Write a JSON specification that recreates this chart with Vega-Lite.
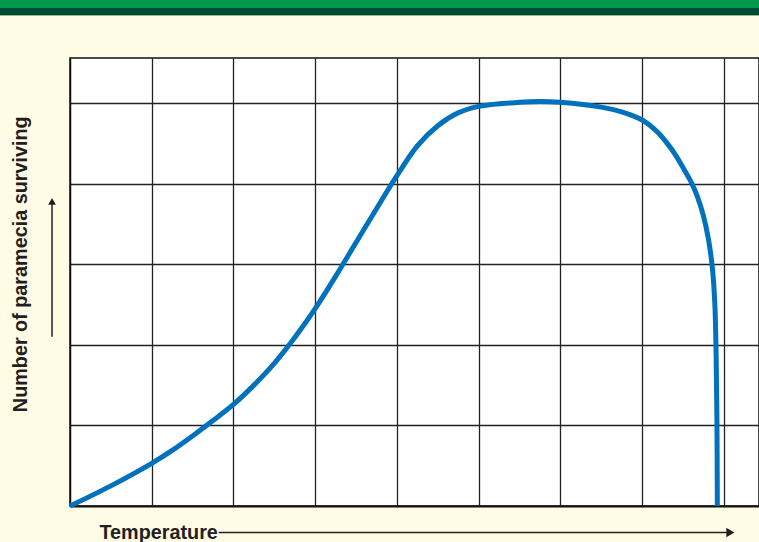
{
  "$schema": "https://vega.github.io/schema/vega-lite/v6.json",
  "width": 689,
  "height": 448,
  "autosize": "none",
  "padding": {"left": 70, "top": 58, "right": 0, "bottom": 36},
  "background": "#fffce6",
  "config": {"view": {"fill": "#ffffff", "stroke": "#111111", "strokeWidth": 1.5}},
  "layer": [
    {
      "data": {"values": [{}]},
      "mark": {"type": "rect", "color": "#00984a"},
      "encoding": {
        "x": {"datum": -0.9, "type": "quantitative", "scale": {"domain": [0, 8.43], "nice": false, "zero": false}},
        "x2": {"datum": 8.6},
        "y": {"datum": 6.32, "type": "quantitative", "scale": {"domain": [0, 5.56], "nice": false, "zero": false}},
        "y2": {"datum": 6.18}
      }
    },
    {
      "data": {"values": [{}]},
      "mark": {"type": "rect", "color": "#004b35"},
      "encoding": {
        "x": {"datum": -0.9, "type": "quantitative"},
        "x2": {"datum": 8.6},
        "y": {"datum": 6.18, "type": "quantitative"},
        "y2": {"datum": 6.095}
      }
    },
    {
      "data": {"values": [{}]},
      "mark": {"type": "rule", "color": "#8db596", "strokeWidth": 1},
      "encoding": {
        "x": {"datum": -0.9, "type": "quantitative"},
        "x2": {"datum": 8.6},
        "y": {"datum": 6.087, "type": "quantitative"}
      }
    },
    {
      "data": {
        "values": [
          {"i": 0, "t": 0, "n": 0},
          {"i": 1, "t": 0.5, "n": 0.25},
          {"i": 2, "t": 1.0, "n": 0.53},
          {"i": 3, "t": 1.25, "n": 0.69},
          {"i": 4, "t": 1.5, "n": 0.87},
          {"i": 5, "t": 1.75, "n": 1.06},
          {"i": 6, "t": 2.0, "n": 1.26},
          {"i": 7, "t": 2.25, "n": 1.5},
          {"i": 8, "t": 2.5, "n": 1.77},
          {"i": 9, "t": 2.75, "n": 2.09},
          {"i": 10, "t": 3.0, "n": 2.45},
          {"i": 11, "t": 3.25, "n": 2.85},
          {"i": 12, "t": 3.5, "n": 3.27},
          {"i": 13, "t": 3.75, "n": 3.69},
          {"i": 14, "t": 4.0, "n": 4.1},
          {"i": 15, "t": 4.25, "n": 4.47},
          {"i": 16, "t": 4.5, "n": 4.72},
          {"i": 17, "t": 4.75, "n": 4.88},
          {"i": 18, "t": 5.0, "n": 4.96},
          {"i": 19, "t": 5.5, "n": 5.01},
          {"i": 20, "t": 5.75, "n": 5.02},
          {"i": 21, "t": 6.0, "n": 5.01},
          {"i": 22, "t": 6.5, "n": 4.95},
          {"i": 23, "t": 6.75, "n": 4.89},
          {"i": 24, "t": 7.0, "n": 4.79},
          {"i": 25, "t": 7.1, "n": 4.72},
          {"i": 26, "t": 7.2, "n": 4.63},
          {"i": 27, "t": 7.3, "n": 4.51},
          {"i": 28, "t": 7.4, "n": 4.37},
          {"i": 29, "t": 7.5, "n": 4.2},
          {"i": 30, "t": 7.6, "n": 4.02},
          {"i": 31, "t": 7.68, "n": 3.83},
          {"i": 32, "t": 7.75, "n": 3.6},
          {"i": 33, "t": 7.81, "n": 3.32},
          {"i": 34, "t": 7.86, "n": 2.95},
          {"i": 35, "t": 7.89, "n": 2.5},
          {"i": 36, "t": 7.905, "n": 1.9},
          {"i": 37, "t": 7.915, "n": 1.1},
          {"i": 38, "t": 7.92, "n": 0}
        ]
      },
      "mark": {"type": "line", "color": "#0071bc", "strokeWidth": 5, "interpolate": "catmull-rom", "strokeCap": "butt"},
      "encoding": {
        "x": {
          "field": "t", "type": "quantitative",
          "axis": {"values": [1, 2, 3, 4, 5, 6, 7, 8], "grid": true, "gridColor": "#222222", "gridWidth": 1.3, "ticks": false, "labels": false, "domain": true, "domainColor": "#111111", "domainWidth": 2.2, "title": null}
        },
        "y": {
          "field": "n", "type": "quantitative",
          "axis": {"values": [1, 2, 3, 4, 5], "grid": true, "gridColor": "#222222", "gridWidth": 1.3, "ticks": false, "labels": false, "domain": true, "domainColor": "#111111", "domainWidth": 1.5, "title": null}
        },
        "order": {"field": "i", "type": "quantitative"}
      }
    },
    {
      "data": {"values": [{}]},
      "mark": {"type": "rule", "color": "#231f20", "strokeWidth": 1.5},
      "encoding": {
        "x": {"datum": 1.82, "type": "quantitative"},
        "x2": {"datum": 8.06},
        "y": {"datum": -0.33, "type": "quantitative"}
      }
    },
    {
      "data": {"values": [{}]},
      "mark": {"type": "point", "shape": "triangle-right", "filled": true, "color": "#231f20", "size": 90, "opacity": 1},
      "encoding": {
        "x": {"datum": 8.08, "type": "quantitative"},
        "y": {"datum": -0.33, "type": "quantitative"}
      }
    },
    {
      "data": {"values": [{}]},
      "mark": {"type": "rule", "color": "#231f20", "strokeWidth": 1.5},
      "encoding": {
        "x": {"datum": -0.22, "type": "quantitative"},
        "y": {"datum": 2.1, "type": "quantitative"},
        "y2": {"datum": 3.76}
      }
    },
    {
      "data": {"values": [{}]},
      "mark": {"type": "point", "shape": "triangle-up", "filled": true, "color": "#231f20", "size": 60, "opacity": 1},
      "encoding": {
        "x": {"datum": -0.22, "type": "quantitative"},
        "y": {"datum": 3.78, "type": "quantitative"}
      }
    },
    {
      "data": {"values": [{"label": "Temperature"}]},
      "mark": {"type": "text", "font": "Liberation Sans", "fontWeight": "bold", "fontSize": 19.8, "color": "#231f20", "align": "left", "baseline": "alphabetic"},
      "encoding": {
        "x": {"datum": 0.361, "type": "quantitative"},
        "y": {"datum": -0.405, "type": "quantitative"},
        "text": {"field": "label"}
      }
    },
    {
      "data": {"values": [{"label": "Number of paramecia surviving"}]},
      "mark": {"type": "text", "font": "Liberation Sans", "fontWeight": "bold", "fontSize": 19.8, "color": "#231f20", "align": "center", "baseline": "alphabetic", "angle": 270},
      "encoding": {
        "x": {"datum": -0.52, "type": "quantitative"},
        "y": {"datum": 3.0, "type": "quantitative"},
        "text": {"field": "label"}
      }
    }
  ]
}
